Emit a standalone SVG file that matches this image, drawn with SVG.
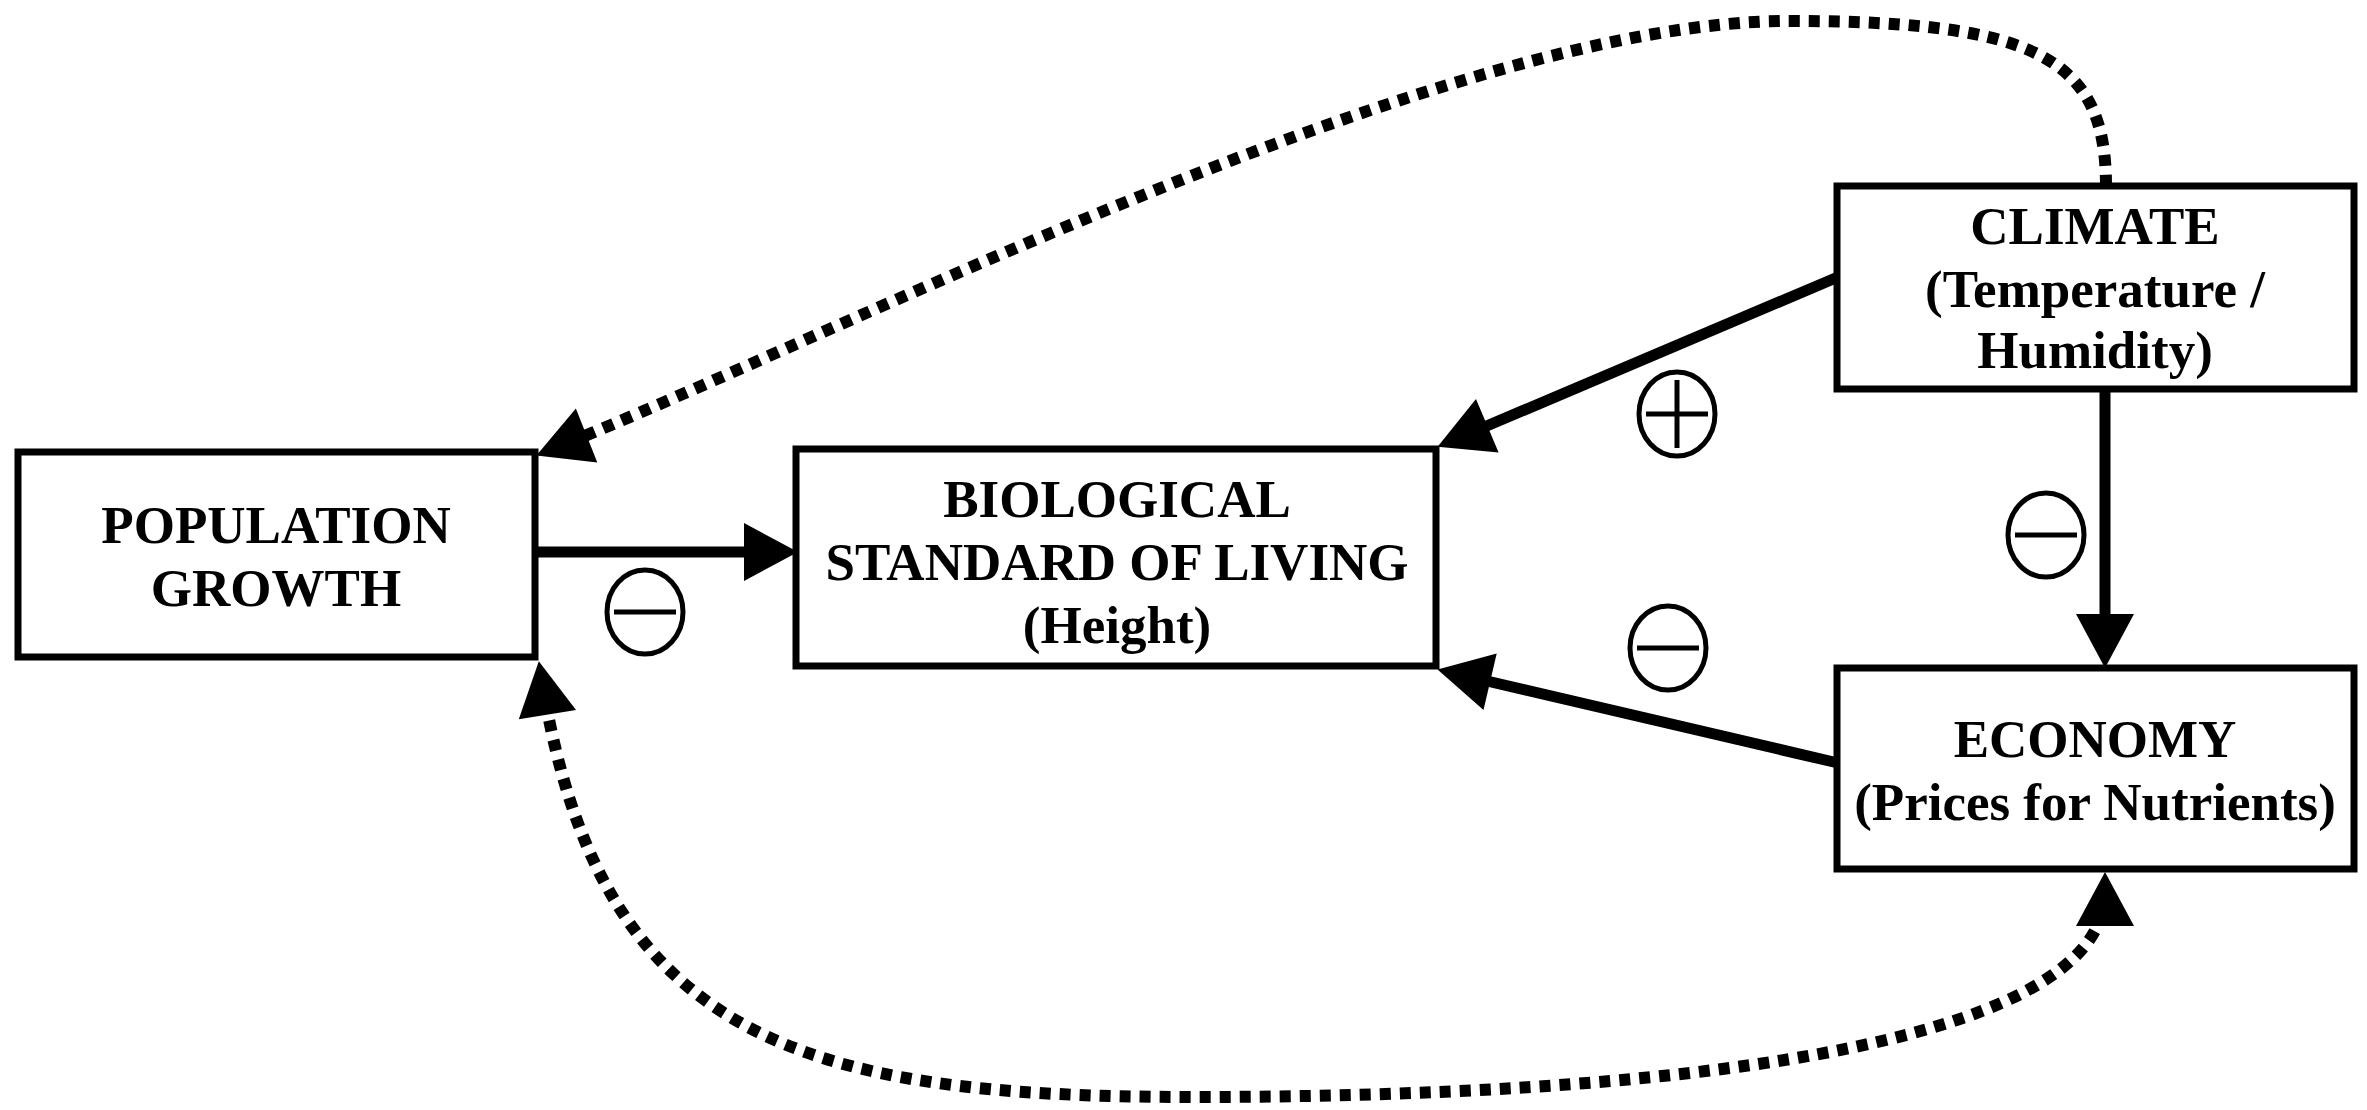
<svg xmlns="http://www.w3.org/2000/svg" width="2367" height="1110" viewBox="0 0 2367 1110">
<style>
.box{fill:#fff;stroke:#000;stroke-width:7}
.lbl{font-family:"Liberation Serif","Times New Roman",serif;font-weight:bold;font-size:53px;fill:#000;text-anchor:middle}
.solid{fill:none;stroke:#000;stroke-width:11}
.dot{fill:none;stroke:#000;stroke-width:12;stroke-dasharray:11 9}
.sign{fill:none;stroke:#000;stroke-width:5}
</style>
<defs>
<marker id="ah" markerUnits="userSpaceOnUse" orient="auto-start-reverse" refX="0" refY="0" markerWidth="80" markerHeight="80" overflow="visible">
<path d="M20,0 L-34,-29 L-34,29 Z" fill="#000"/>
</marker>
</defs>
<rect width="2367" height="1110" fill="#fff"/>
<g id="connectors">
<path class="solid" d="M536,552 L778,552" marker-end="url(#ah)"/>
<path class="solid" d="M1838,277 L1456,439" marker-end="url(#ah)"/>
<path class="solid" d="M1838,763 L1457,674" marker-end="url(#ah)"/>
<path class="solid" d="M2105,389 L2105,648" marker-end="url(#ah)"/>
<path class="dot" d="M2106,186 C2106,60 2040,21 1790,21 C1450,20 834,337 555,448" marker-end="url(#ah)"/>
<path class="dot" d="M542,681 C600,1040 800,1097 1193,1097 C1650,1097 2105,1050 2105,892" marker-start="url(#ah)" marker-end="url(#ah)"/>
</g>
<g id="signs">
<g id="sign-pop-bio"><ellipse class="sign" cx="645" cy="612" rx="38" ry="42"/><line class="sign" x1="614" y1="612" x2="676" y2="612"/></g>
<g id="sign-clim-bio"><ellipse class="sign" cx="1677" cy="414" rx="38" ry="42"/><line class="sign" x1="1646" y1="414" x2="1708" y2="414"/><line class="sign" x1="1677" y1="380" x2="1677" y2="448"/></g>
<g id="sign-econ-bio"><ellipse class="sign" cx="1668" cy="648" rx="38" ry="42"/><line class="sign" x1="1637" y1="648" x2="1699" y2="648"/></g>
<g id="sign-clim-econ"><ellipse class="sign" cx="2046" cy="535" rx="38" ry="42"/><line class="sign" x1="2015" y1="535" x2="2077" y2="535"/></g>
</g>
<g id="node-population">
<rect class="box" x="18" y="452" width="517" height="205"/>
<text class="lbl" x="276" y="543">POPULATION</text>
<text class="lbl" x="276" y="606">GROWTH</text>
</g>
<g id="node-bio">
<rect class="box" x="796" y="449" width="640" height="217"/>
<text class="lbl" x="1117" y="517">BIOLOGICAL</text>
<text class="lbl" x="1117" y="580">STANDARD OF LIVING</text>
<text class="lbl" x="1117" y="643">(Height)</text>
</g>
<g id="node-climate">
<rect class="box" x="1837" y="186" width="517" height="203"/>
<text class="lbl" x="2095" y="244">CLIMATE</text>
<text class="lbl" x="2095" y="307">(Temperature /</text>
<text class="lbl" x="2095" y="368">Humidity)</text>
</g>
<g id="node-economy">
<rect class="box" x="1837" y="668" width="517" height="201"/>
<text class="lbl" x="2095" y="757">ECONOMY</text>
<text class="lbl" x="2095" y="820">(Prices for Nutrients)</text>
</g>
</svg>
